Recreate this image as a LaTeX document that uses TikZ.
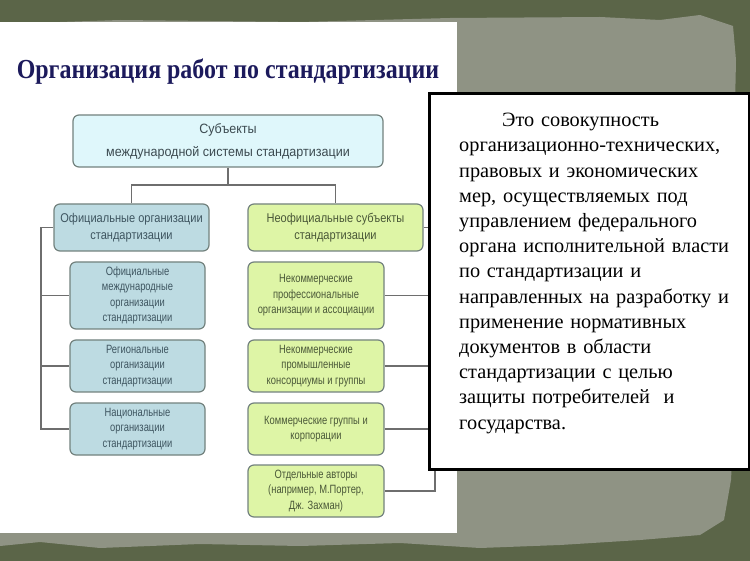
\documentclass[tikz,border=0pt]{standalone}
\usepackage{fontspec}
\setmainfont{Liberation Serif}
\newfontfamily\titlefont[FakeStretch=0.87]{Liberation Serif}
\newfontfamily\tsans[FakeStretch=0.93]{Liberation Sans}
\newfontfamily\dsans[FakeStretch=0.87]{Liberation Sans}
\newfontfamily\nsans[FakeStretch=0.78]{Liberation Sans}
\definecolor{bgdark}{HTML}{5B6548}
\definecolor{paper}{HTML}{8F9384}
\definecolor{titleblue}{HTML}{1C1A5C}
\definecolor{topfill}{HTML}{DFF7FB}
\definecolor{bluefill}{HTML}{BDDBE2}
\definecolor{greenfill}{HTML}{DEF5A6}
\definecolor{boxedge}{HTML}{73827E}
\definecolor{linegrey}{HTML}{6E6E6E}
\definecolor{bluetext}{HTML}{3E5560}
\definecolor{greentext}{HTML}{4A5838}
\definecolor{toptext}{HTML}{3C4A50}
\tikzset{
  orgbox/.style={draw=boxedge, line width=1.2pt, rounded corners=6pt, align=center, inner sep=1pt},
  topbox/.style={orgbox, fill=topfill, text=toptext, font=\tsans\fontsize{13.5}{23}\selectfont},
  lvlblue/.style={orgbox, fill=bluefill, text=bluetext, font=\dsans\fontsize{12.7}{17}\selectfont},
  lvlgreen/.style={orgbox, fill=greenfill, text=greentext, font=\dsans\fontsize{12.7}{17}\selectfont},
  kidblue/.style={orgbox, fill=bluefill, text=bluetext, font=\nsans\fontsize{12}{15.5}\selectfont},
  kidgreen/.style={orgbox, fill=greenfill, text=greentext, font=\nsans\fontsize{12}{15.5}\selectfont},
  conn/.style={draw=linegrey, line width=1.2pt},
}
\begin{document}
\begin{tikzpicture}[x=1pt,y=-1pt]
\useasboundingbox (0,0) rectangle (750,561);
% background
\fill[bgdark] (0,0) rectangle (750,561);
\fill[paper] (0,24) -- (120,20) -- (300,22) -- (450,18) -- (600,17) -- (660,20) -- (700,15) -- (733,26) -- (736,60) -- (733,200) -- (735,400) -- (731,480) -- (724,520) -- (700,535) -- (640,540) -- (560,545) -- (480,548) -- (400,543) -- (300,546) -- (200,544) -- (100,548) -- (40,542) -- (0,546) -- cycle;
\fill[white] (0,22) rectangle (457,533);
% title
\node[text=titleblue, font=\titlefont\bfseries\fontsize{27.5}{30}\selectfont] (title) at (228,72) {Организация работ по стандартизации};
% boxes
\node[topbox, minimum width=310pt, minimum height=52pt] (top) at (228,141) {Субъекты\\международной системы стандартизации};
\node[lvlblue, minimum width=155pt, minimum height=47pt] (offL) at (131.5,227.5) {Официальные организации\\стандартизации};
\node[lvlgreen, minimum width=175pt, minimum height=47pt] (unofR) at (335.5,227.5) {Неофициальные субъекты\\стандартизации};
\node[kidblue, minimum width=135pt, minimum height=67pt] (L1) at (137.5,295.5) {Официальные\\международные\\организации\\стандартизации};
\node[kidblue, minimum width=135pt, minimum height=52pt] (L2) at (137.5,366) {Региональные\\организации\\стандартизации};
\node[kidblue, minimum width=135pt, minimum height=52pt] (L3) at (137.5,429) {Национальные\\организации\\стандартизации};
\node[kidgreen, minimum width=136pt, minimum height=67pt] (R1) at (316,295.5) {Некоммерческие\\профессиональные\\организации и ассоциации};
\node[kidgreen, minimum width=136pt, minimum height=52pt] (R2) at (316,366) {Некоммерческие\\промышленные\\консорциумы и группы};
\node[kidgreen, minimum width=136pt, minimum height=52pt] (R3) at (316,429) {Коммерческие группы и\\корпорации};
\node[kidgreen, minimum width=136pt, minimum height=52pt] (R4) at (316,491) {Отдельные авторы\\(например, М.Портер,\\Дж. Захман)};
% connectors
\coordinate (mid) at (228,185);
\coordinate (lb) at (41,0);
\coordinate (rb) at (435,0);
\draw[conn] (top.south) -- (mid);
\draw[conn] (offL.north) |- (mid) -| (unofR.north);
\draw[conn] (offL.west) -- (offL.west -| lb) -- (L3.west -| lb) -- (L3.west);
\draw[conn] (L1.west -| lb) -- (L1.west);
\draw[conn] (L2.west -| lb) -- (L2.west);
\draw[conn] (unofR.east) -- (unofR.east -| rb) -- (R4.east -| rb) -- (R4.east);
\draw[conn] (R1.east) -- (R1.east -| rb);
\draw[conn] (R2.east) -- (R2.east -| rb);
\draw[conn] (R3.east) -- (R3.east -| rb);
% definition box
\node[draw=black, line width=3pt, fill=white, minimum width=320pt, minimum height=376pt, anchor=north west, inner sep=0pt] (defbox) at (428,92) {};
\node[anchor=north west, inner sep=0pt, align=left, text width=285pt, font=\fontsize{20.3}{25.2}\selectfont] (deftext) at (459,113) {\hspace*{43pt}Это совокупность\\организационно-технических,\\правовых и экономических\\мер, осуществляемых под\\управлением федерального\\органа исполнительной власти\\по стандартизации и\\направленных на разработку и\\применение нормативных\\документов в области\\стандартизации с целью\\защиты потребителей\ \ и\\государства.};
\end{tikzpicture}
\end{document}
